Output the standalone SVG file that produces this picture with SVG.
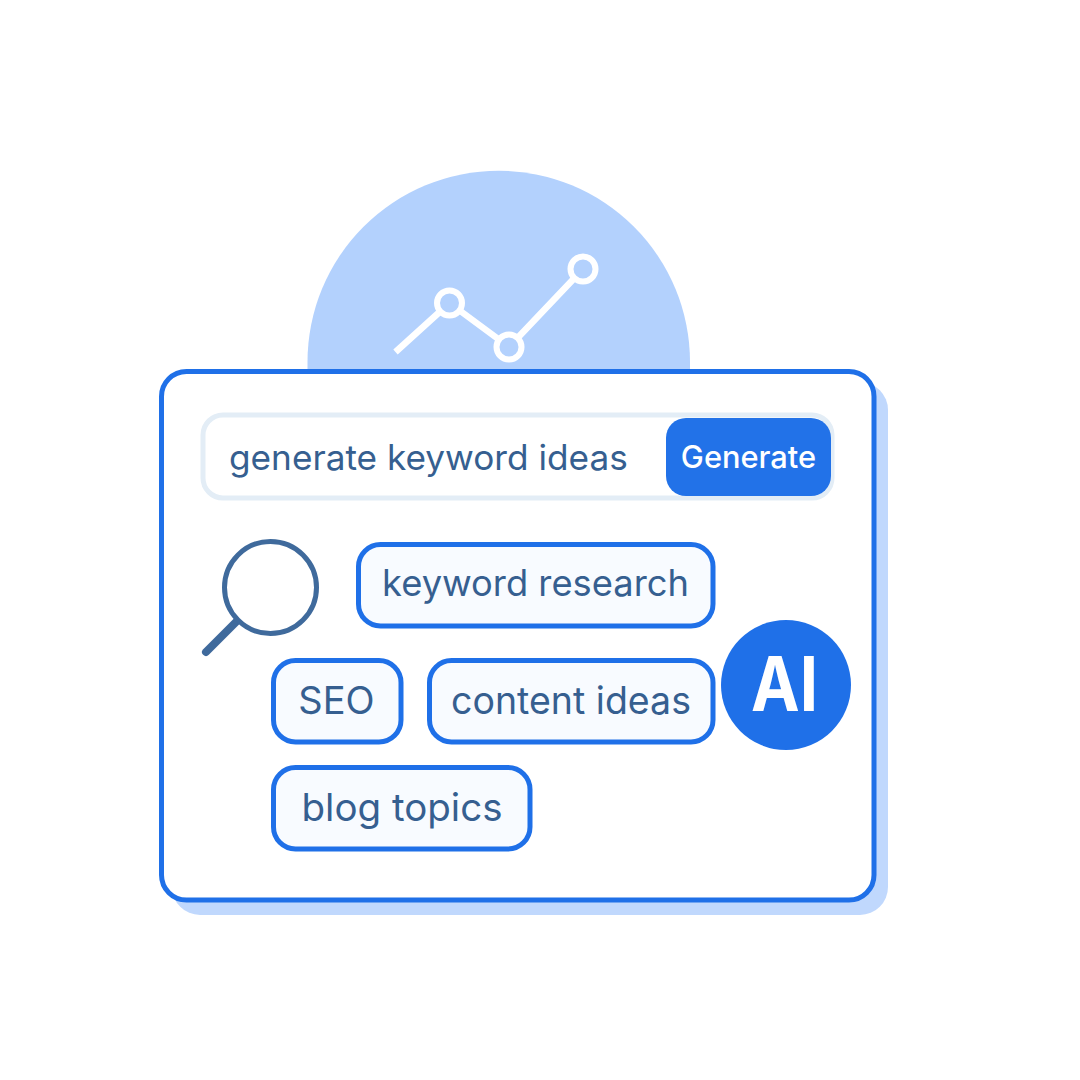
<svg xmlns="http://www.w3.org/2000/svg" width="1080" height="1080" viewBox="0 0 1080 1080">
<style>
text{font-family:"Inter","Liberation Sans",sans-serif}
.chip{fill:#f8fbff;stroke:#1f70e8;stroke-width:5}
.label{fill:#365f90}
.dot{fill:#b3d1fd;stroke:#fff;stroke-width:6}
</style>
<rect width="1080" height="1080" fill="#fff"/>
<g id="backdrop"><path d="M307.500 369V362A191.250 191.250 0 0 1 690 362V369Z" fill="#b3d1fd"/></g>
<g id="connectors"><polyline points="395.500,352 449.500,303 509,347 583,269" fill="none" stroke="#fff" stroke-width="6.500" stroke-linejoin="round"/></g>
<g id="chart"><circle class="dot" cx="449.500" cy="303" r="12.500"/><circle class="dot" cx="509" cy="347" r="12.500"/><circle class="dot" cx="583" cy="269" r="12.500"/></g>
<g id="card"><rect x="172" y="382" width="716" height="533" rx="28" fill="#c0d8fd"/><rect x="161.500" y="371.500" width="712.500" height="528.500" rx="25" fill="#fff" stroke="#1f70e8" stroke-width="5"/></g>
<g id="search-bar"><rect x="203" y="415" width="629" height="83" rx="20" fill="#fff" stroke="#e3edf6" stroke-width="5"/><text class="label" x="229" y="470" font-size="35.200">generate keyword ideas</text></g>
<g id="generate-button"><rect x="666" y="418" width="165" height="78" rx="20" fill="#2272e8"/><text x="748.500" y="468" text-anchor="middle" font-size="30.800" font-weight="500" fill="#fff">Generate</text></g>
<g id="magnifier"><line x1="238" y1="620" x2="206" y2="652" stroke="#3f6a9c" stroke-width="8" stroke-linecap="round"/><circle cx="270.500" cy="587.500" r="46" fill="#fff" stroke="#3f6a9c" stroke-width="5"/></g>
<g id="chip-keyword-research"><rect class="chip" x="358.500" y="544.500" width="354.500" height="81.500" rx="22"/><text class="label" x="535.500" y="596" text-anchor="middle" font-size="36.300">keyword research</text></g>
<g id="chip-seo"><rect class="chip" x="273.500" y="660.500" width="127.500" height="81.500" rx="22"/><text class="label" x="336.500" y="714" text-anchor="middle" font-size="38">SEO</text></g>
<g id="chip-content-ideas"><rect class="chip" x="429.500" y="660.500" width="283.500" height="81.500" rx="22"/><text class="label" x="571" y="714" text-anchor="middle" font-size="37.500">content ideas</text></g>
<g id="chip-blog-topics"><rect class="chip" x="273.500" y="767.500" width="256.500" height="81.500" rx="22"/><text class="label" x="402" y="821" text-anchor="middle" font-size="38.500">blog topics</text></g>
<g id="ai-badge"><circle cx="786" cy="685" r="65" fill="#1f70e8"/><text x="751" y="711" font-size="75" font-weight="700" fill="#fff" textLength="67" lengthAdjust="spacingAndGlyphs">AI</text></g>
</svg>
